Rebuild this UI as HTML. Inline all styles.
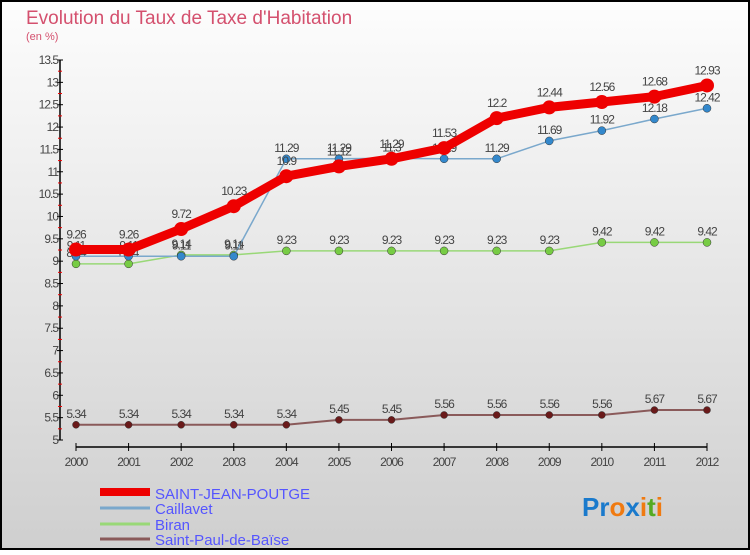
<!DOCTYPE html>
<html><head><meta charset="utf-8"><style>
body{margin:0}
#c{width:750px;height:550px;position:relative;font-family:"Liberation Sans",sans-serif}
</style></head><body>
<div id="c">
<svg id="s" width="750" height="550" xmlns="http://www.w3.org/2000/svg">
<defs><linearGradient id="bg" x1="0" y1="0" x2="0" y2="1"><stop offset="0" stop-color="#fdfdfd"/><stop offset="1" stop-color="#cfcfcf"/></linearGradient></defs>
<rect x="1" y="1" width="748" height="548" fill="url(#bg)" stroke="#000" stroke-width="2"/>
<text x="26" y="24" font-size="19" fill="#d4506e">Evolution du Taux de Taxe d'Habitation</text>
<text x="26" y="40" font-size="11" fill="#d4506e">(en %)</text>
<g id="axes"></g><g id="series"></g>
<g>
<line x1="100" y1="492" x2="150" y2="492" stroke="#e00" stroke-width="8"/>
<text x="155" y="499" font-size="15" fill="#5555ff">SAINT-JEAN-POUTGE</text>
<line x1="100" y1="508" x2="150" y2="508" stroke="#7aa8cc" stroke-width="3"/>
<text x="155" y="514" font-size="15" fill="#5555ff">Caillavet</text>
<line x1="100" y1="524" x2="150" y2="524" stroke="#99d877" stroke-width="3"/>
<text x="155" y="530" font-size="15" fill="#5555ff">Biran</text>
<line x1="100" y1="539" x2="150" y2="539" stroke="#8a5a5a" stroke-width="3"/>
<text x="155" y="545" font-size="15" fill="#5555ff">Saint-Paul-de-Baïse</text>
</g>
<text x="582" y="516" font-size="26" font-weight="bold"><tspan fill="#1a7acc">Pr</tspan><tspan fill="#f07a10">o</tspan><tspan fill="#1a7acc">x</tspan><tspan fill="#f07a10">i</tspan><tspan fill="#55aa22">t</tspan><tspan fill="#f07a10">i</tspan></text>
</svg>
</div>
<script>
const years=[2000,2001,2002,2003,2004,2005,2006,2007,2008,2009,2010,2011,2012];
const yTicks=[5,5.5,6,6.5,7,7.5,8,8.5,9,9.5,10,10.5,11,11.5,12,12.5,13,13.5];
const sjp=[9.26,9.26,9.72,10.23,10.9,11.12,11.29,11.53,12.2,12.44,12.56,12.68,12.93];
const caillavet=[9.11,9.11,9.11,9.11,11.29,11.29,11.3,11.29,11.29,11.69,11.92,12.18,12.42];
const biran=[8.94,8.94,9.14,9.14,9.23,9.23,9.23,9.23,9.23,9.23,9.42,9.42,9.42];
const spdb=[5.34,5.34,5.34,5.34,5.34,5.45,5.45,5.56,5.56,5.56,5.56,5.67,5.67];
const NS="http://www.w3.org/2000/svg";
const X=i=>76+i*(707-76)/(years.length-1);
const Y=v=>440-(v-5)*(380/8.5);
function mk(t,a,p){const e=document.createElementNS(NS,t);for(const k in a)e.setAttribute(k,a[k]);p.appendChild(e);return e;}
const ax=document.getElementById('axes');
let yl=mk('line',{x1:60,y1:Y(13.5),x2:60,y2:440,stroke:'#000','stroke-width':1.5},ax);


let xl=mk('line',{x1:76,y1:447,x2:707,y2:447,stroke:'#000','stroke-width':1.5},ax);


yTicks.forEach(v=>{
 mk('line',{x1:57,y1:Y(v),x2:63,y2:Y(v),stroke:'#000'},ax);
 mk('line',{x1:58,y1:Y(v+0.25),x2:62,y2:Y(v+0.25),stroke:v<13.5?'#e00':'none'},ax);
 const t=mk('text',{x:58,y:Y(v)+4,'font-size':12,'text-anchor':'end',fill:'#444','letter-spacing':'-1'},ax);
 t.textContent=String(v);
 
 
});
years.forEach((y,i)=>{
 mk('line',{x1:X(i),y1:443,x2:X(i),y2:451,stroke:'#000'},ax);
 const t=mk('text',{x:X(i),y:466,'font-size':12,'text-anchor':'middle',fill:'#444','letter-spacing':'-1'},ax);
 t.textContent=String(y);
 
 
});
const sg=document.getElementById('series');
function series(vals,color,lw,r,name,dot){
 const g=mk('g',{},sg);
 
 
 mk('polyline',{points:vals.map((v,i)=>X(i)+','+Y(v)).join(' '),fill:'none',stroke:color,'stroke-width':lw,'stroke-linejoin':'round'},g);
 vals.forEach((v,i)=>{
  const c=mk('circle',{cx:X(i),cy:Y(v),r:r,fill:dot,stroke:'#333','stroke-width':r>5?0:0.5},g);
  
  
  const t=mk('text',{x:X(i),y:Y(v)-(r>5?11:7),'font-size':12,'text-anchor':'middle',fill:'#444','letter-spacing':'-1'},g);
  t.textContent=String(v);
  
  
 });
}
series(spdb,'#8a5a5a',2,3.5,'saint-paul-de-baise','#6a1a1a');
series(biran,'#99d877',1.5,4,'biran','#77cc44');
series(caillavet,'#7aa8cc',1.5,4,'caillavet','#3388cc');
series(sjp,'#ee0000',9,7,'saint-jean-poutge','#ee0000');
</script>
</body></html>
